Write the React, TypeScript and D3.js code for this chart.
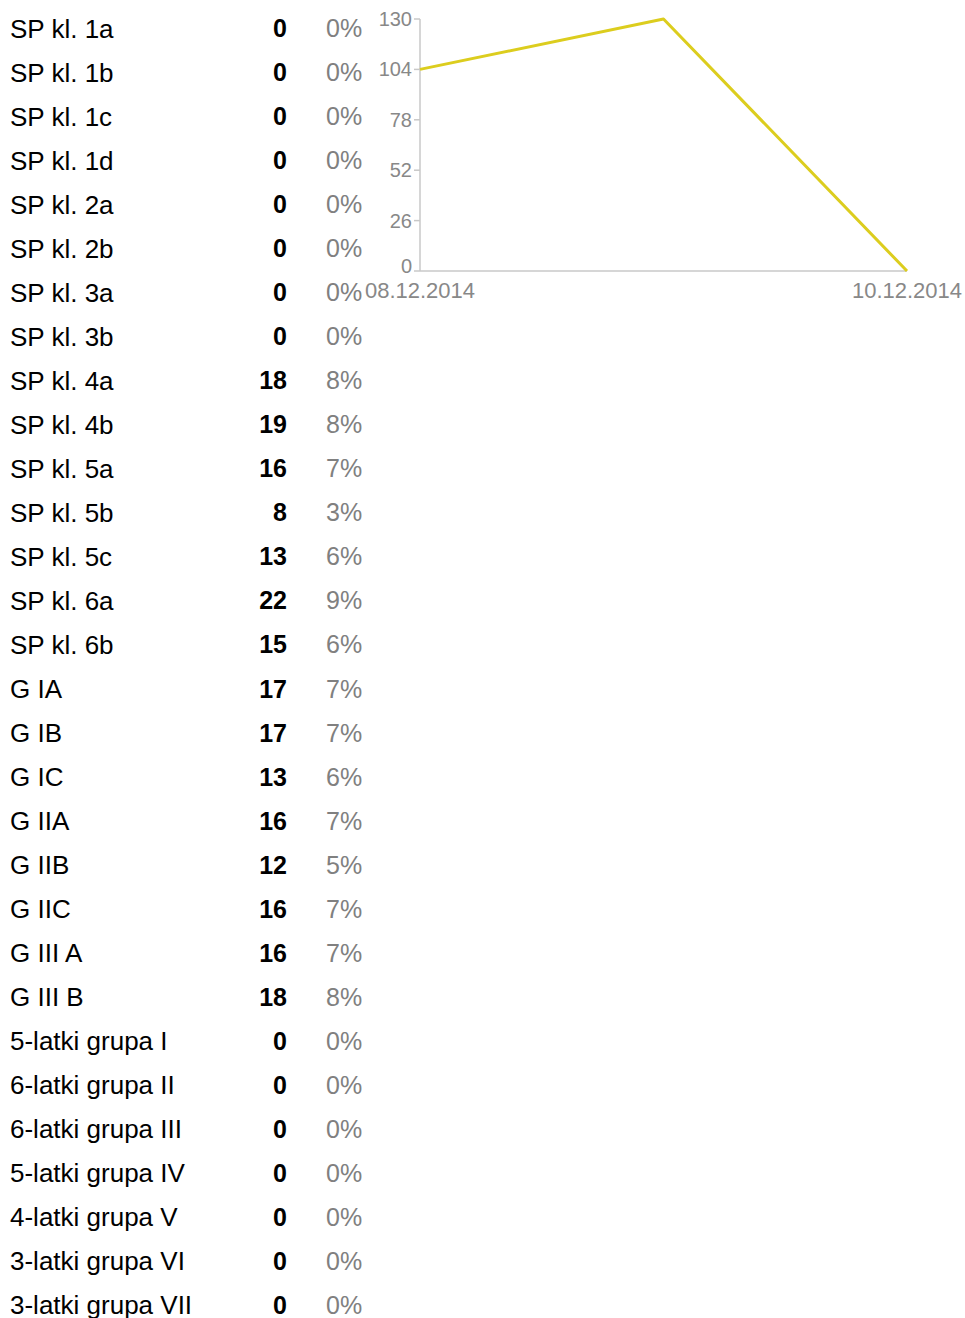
import React from 'react';
import * as d3 from 'd3';

const labels = [
  'SP kl. 1a', 'SP kl. 1b', 'SP kl. 1c', 'SP kl. 1d', 'SP kl. 2a', 'SP kl. 2b', 'SP kl. 3a', 'SP kl. 3b',
  'SP kl. 4a', 'SP kl. 4b', 'SP kl. 5a', 'SP kl. 5b', 'SP kl. 5c', 'SP kl. 6a', 'SP kl. 6b',
  'G IA', 'G IB', 'G IC', 'G IIA', 'G IIB', 'G IIC', 'G III A', 'G III B',
  '5-latki grupa I', '6-latki grupa II', '6-latki grupa III', '5-latki grupa IV', '4-latki grupa V',
  '3-latki grupa VI', '3-latki grupa VII',
];
const counts = [0, 0, 0, 0, 0, 0, 0, 0, 18, 19, 16, 8, 13, 22, 15, 17, 17, 13, 16, 12, 16, 16, 18, 0, 0, 0, 0, 0, 0, 0];
const percents = [0, 0, 0, 0, 0, 0, 0, 0, 8, 8, 7, 3, 6, 9, 6, 7, 7, 6, 7, 5, 7, 7, 8, 0, 0, 0, 0, 0, 0, 0];

const dates = ['2014-12-08', '2014-12-09', '2014-12-10'];
const totals = [104, 130, 0];
const yTicks = [0, 26, 52, 78, 104, 130];

const font = '"Liberation Sans", Arial, sans-serif';

export default function App() {
  const width = 965;
  const height = 1318;

  const rowY = d3.scalePoint<string>().domain(labels).range([28.5, 1305]);

  const parse = d3.timeParse('%Y-%m-%d');
  const pts = dates.map((d, i) => ({ date: parse(d) as Date, value: totals[i] }));
  const x = d3.scaleTime()
    .domain(d3.extent(pts, d => d.date) as [Date, Date])
    .range([420, 907]);
  const y = d3.scaleLinear().domain([0, 130]).range([271, 19]);
  const fmt = d3.timeFormat('%d.%m.%Y');

  const line = d3.line<{ date: Date; value: number }>()
    .x(d => x(d.date))
    .y(d => y(d.value));

  const xTicks = x.domain();
  const axisColor = '#c8c8c8';

  return (
    <svg width={width} height={height} style={{ position: 'absolute', left: 0, top: 0, background: '#fff' }}
      fontFamily={font}>
      {labels.map((l, i) => {
        const cy = rowY(l) as number;
        return (
          <g key={l}>
            <text x={10} y={cy} dy="0.35em" fontSize={26} fill="#000">{l}</text>
            <text x={287} y={cy} dy="0.35em" fontSize={25} fontWeight="bold" textAnchor="end" fill="#000">{counts[i]}</text>
            <text x={326} y={cy} dy="0.35em" fontSize={25} fill="#808080">{percents[i]}%</text>
          </g>
        );
      })}

      {/* y axis */}
      <line x1={x.range()[0]} x2={x.range()[0]} y1={y(130)} y2={y(0)} stroke={axisColor} strokeWidth={1.5} />
      {yTicks.map(t => (
        <g key={t} transform={`translate(${x.range()[0]},${y(t)})`}>
          <line x1={-6} x2={0} stroke={axisColor} strokeWidth={1.5} />
          <text x={-8} dy={t === 0 ? '0.1em' : '0.35em'} textAnchor="end" fontSize={20} fill="#888">{t}</text>
        </g>
      ))}

      {/* x axis */}
      <line x1={x.range()[0]} x2={x.range()[1]} y1={y(0)} y2={y(0)} stroke={axisColor} strokeWidth={1.5} />
      {xTicks.map(t => (
        <text key={+t} x={x(t)} y={y(0) + 27} textAnchor="middle" fontSize={22} fill="#888">{fmt(t)}</text>
      ))}

      <path d={line(pts) ?? ''} fill="none" stroke="#dccd1e" strokeWidth={3} strokeLinejoin="round" />
    </svg>
  );
}
